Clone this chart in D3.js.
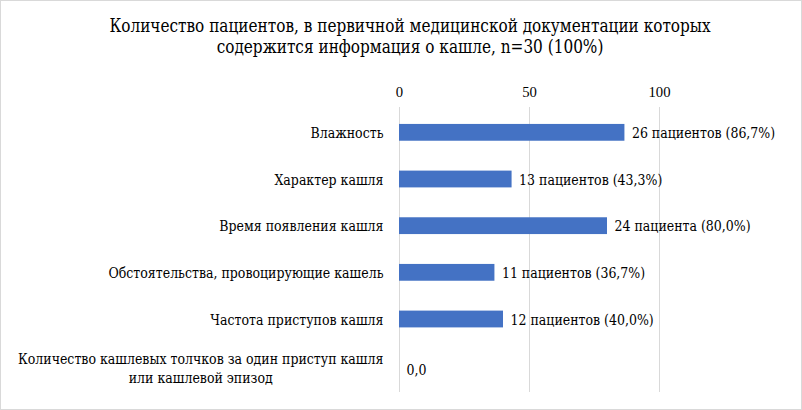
<!DOCTYPE html>
<html>
<head>
<meta charset="utf-8">
<script src="https://cdn.jsdelivr.net/npm/d3@7"></script>
<style>
  body { margin: 0; background: #fff; }
  svg { display: block; }
</style>
</head>
<body>
<svg id="chart" width="802" height="410"></svg>
<script>
// data
var categories = [
  ["Влажность"],
  ["Характер кашля"],
  ["Время появления кашля"],
  ["Обстоятельства, провоцирующие кашель"],
  ["Частота приступов кашля"],
  ["Количество кашлевых  толчков за один приступ кашля", "или кашлевой  эпизод"]
];
var percents = [86.7, 43.3, 80.0, 36.7, 40.0, 0];
var valueLabels = [
  "26 пациентов (86,7%)",
  "13 пациентов (43,3%)",
  "24 пациента (80,0%)",
  "11 пациентов (36,7%)",
  "12 пациентов (40,0%)",
  "0,0"
];
var tickValues = [0, 50, 100];
var titleLines = [
  "Количество пациентов, в первичной медицинской документации которых",
  "содержится информация о кашле, n=30 (100%)"
];

// the only serif face here with Cyrillic is DejaVu Serif, which runs wider
// than Times, so texts get squeezed horizontally to Times-like widths
var CYR = "'DejaVu Serif', serif";
var LAT = "'Liberation Serif', 'Times New Roman', serif";
var W = 802, H = 410;
var svg = d3.select("#chart");

function widthOf(str, size) {
  var t = svg.append("text").style("font-family", CYR).style("font-size", size).text(str);
  var w = t.node().getComputedTextLength();
  t.remove();
  return w;
}
// calibration against widths measured on the reference
var kSmall = 73 / widthOf("Влажность", "14.7px");
var kTitle = 602 / widthOf(titleLines[0], "18px");

function place(px, py, k) {
  return "translate(" + px.toFixed(1) + "," + py.toFixed(1) + ") scale(" + k.toFixed(4) + ",1)";
}

// frame
svg.append("rect")
  .attr("x", 0.5).attr("y", 0.5)
  .attr("width", W - 1).attr("height", H - 1)
  .attr("fill", "#fff")
  .attr("stroke", "#d9d9d9");

// title
svg.append("g").selectAll("text")
  .data(titleLines)
  .enter().append("text")
  .attr("transform", function (d, i) { return place(410, 32 + i * 21, kTitle); })
  .attr("text-anchor", "middle")
  .style("font-family", CYR)
  .style("font-size", "18px")
  .text(function (d) { return d; });

var x = d3.scaleLinear().domain([0, 100]).range([399, 659]);
var y = d3.scaleBand()
  .domain(d3.range(categories.length))
  .range([109, 389])
  .paddingInner(0.64)
  .paddingOuter(0.32);

// gridlines
svg.append("g").selectAll("line")
  .data(tickValues)
  .enter().append("line")
  .attr("x1", function (d) { return x(d) + 0.5; })
  .attr("x2", function (d) { return x(d) + 0.5; })
  .attr("y1", 107)
  .attr("y2", 392)
  .attr("stroke", "#d9d9d9")
  .attr("stroke-width", 1);

// top axis labels
var axis = svg.append("g")
  .attr("transform", "translate(0,97)")
  .call(d3.axisTop(x).tickValues(tickValues).tickSize(0).tickPadding(0));
axis.attr("font-family", null);
axis.select(".domain").remove();
axis.selectAll("text")
  .attr("fill", "#000")
  .style("font-size", "14.7px")
  .style("font-family", LAT);

// bars
svg.append("g").selectAll("rect")
  .data(percents)
  .enter().append("rect")
  .attr("x", x(0))
  .attr("y", function (d, i) { return y(i); })
  .attr("width", function (d) { return x(d) - x(0); })
  .attr("height", y.bandwidth())
  .attr("fill", "#4472c4");

// value labels
svg.append("g").selectAll("text")
  .data(percents)
  .enter().append("text")
  .attr("transform", function (d, i) {
    return place(x(d) + 7.5, y(i) + y.bandwidth() / 2 + 5.5 + (d == 0 ? 4 : 0), kSmall);
  })
  .style("font-family", CYR)
  .style("font-size", "14.7px")
  .text(function (d, i) { return valueLabels[i]; });

// category labels (the two-line one is centred on its first line)
var labelRight = 383.5;
var cat = svg.append("g").selectAll("text")
  .data(categories)
  .enter().append("text")
  .style("font-family", CYR)
  .style("font-size", "14.7px");
cat.selectAll("tspan")
  .data(function (d) { return d; })
  .enter().append("tspan")
  .attr("x", 0)
  .attr("dy", function (d, i) { return i == 0 ? 0 : 18.3; })
  .text(function (d) { return d; });
cat.each(function (d, i) {
  var t = d3.select(this);
  var cy = y(i) + y.bandwidth() / 2;
  if (d.length == 1) {
    t.attr("text-anchor", "end")
      .attr("transform", place(labelRight, cy + 5.5, kSmall));
  } else {
    var w0 = t.select("tspan").node().getComputedTextLength() * kSmall;
    t.attr("text-anchor", "middle")
      .attr("transform", place(labelRight - w0 / 2, cy - 1.3, kSmall));
  }
});
</script>
</body>
</html>
